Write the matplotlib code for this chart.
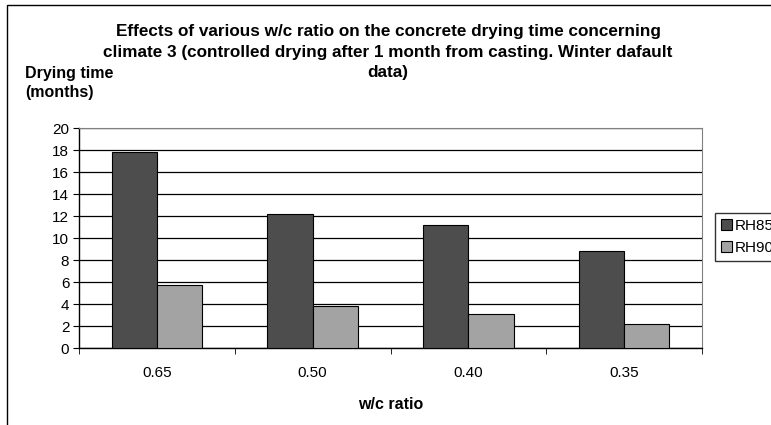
import numpy as np
import matplotlib.pyplot as plt
from matplotlib.patches import Rectangle

plt.rcParams['font.family'] = ['Liberation Sans', 'DejaVu Sans']

# data
ratios = ["0.65", "0.50", "0.40", "0.35"]
rh85 = [17.8, 12.15, 11.2, 8.8]
rh90 = [5.7, 3.8, 3.05, 2.2]

fig = plt.figure(figsize=(7.71, 4.25), dpi=100)
ax = fig.add_axes([79/771, 1-348/425, (702-79)/771, (348-128)/425])

x = np.arange(len(ratios))
w = 0.29
ax.bar(x - w/2, rh85, w, color='#4d4d4d', edgecolor='black', linewidth=0.8, label='RH85', zorder=3)
ax.bar(x + w/2, rh90, w, color='#a3a3a3', edgecolor='black', linewidth=0.8, label='RH90', zorder=3)

ax.set_xlim(-0.5, len(ratios) - 0.5)
ax.set_ylim(0, 20)
ax.set_yticks(range(0, 21, 2))
ax.set_xticks(x)
ax.set_xticklabels(ratios)
ax.set_xticks(np.arange(-0.5, len(ratios)), minor=True)
ax.tick_params(axis='x', which='major', length=0, pad=13, labelsize=11)
ax.tick_params(axis='x', which='minor', length=4, direction='out')
ax.tick_params(axis='y', length=4, direction='out', labelsize=11, pad=3)
ax.yaxis.grid(True, color='black', linewidth=0.9, zorder=0)
ax.set_axisbelow(True)

for s in ['left', 'bottom']:
    ax.spines[s].set_color('black')
    ax.spines[s].set_linewidth(1)
ax.spines['right'].set_color('#808080')
ax.spines['top'].set_color('#808080')

ax.set_xlabel("w/c ratio", fontsize=11.5, fontweight='bold', labelpad=12)

title = ("Effects of various w/c ratio on the concrete drying time concerning\n"
         "climate 3 (controlled drying after 1 month from casting. Winter dafault\n"
         "data)")
fig.text(388/771, 1-24/425, title, ha='center', va='top', fontsize=12.3,
         fontweight='bold', linespacing=1.47)
fig.text(25/771, 1-83/425, "Drying time\n(months)", ha='left', va='center',
         fontsize=11.5, fontweight='bold', linespacing=1.35)

# the legend runs past the right edge, as in the original picture
ax.legend(loc='upper left', bbox_to_anchor=(715/771, 1-213/425),
          bbox_transform=fig.transFigure, frameon=True, fancybox=False,
          edgecolor='black', fontsize=11, handlelength=0.7, handleheight=0.7,
          handletextpad=0.2, borderpad=0.4, labelspacing=0.5, borderaxespad=0)

# outer chart border, cut by the image edge on the right and bottom
fig.add_artist(Rectangle((7/771, -0.1), 1.5, 1.1 - 5/425, transform=fig.transFigure,
                         fill=False, edgecolor='black', linewidth=1))

fig.savefig("out.png", dpi=100)
